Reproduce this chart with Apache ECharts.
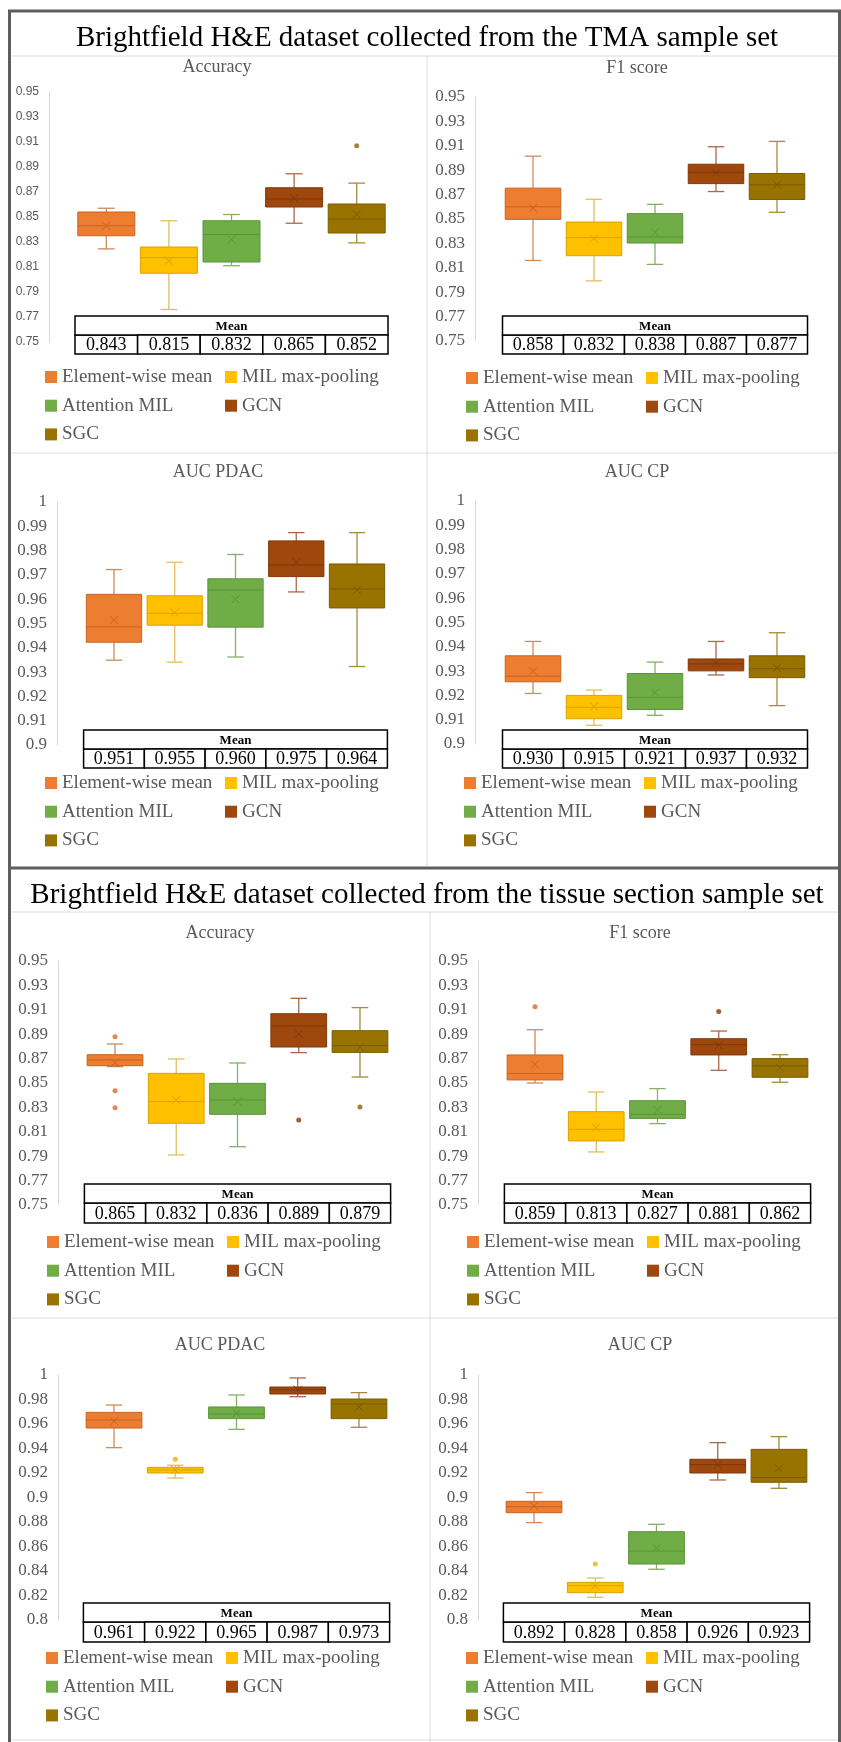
<!DOCTYPE html>
<html><head><meta charset="utf-8">
<script src="https://cdn.jsdelivr.net/npm/echarts@6/dist/echarts.min.js"></script>
<style>html,body{margin:0;padding:0;background:#fff}#c{width:841px;height:1742px}</style>
</head><body><div id="c"></div>
<script>
// ---------- DATA ----------
const methods = ['Element-wise mean','MIL max-pooling','Attention MIL','GCN','SGC'];
const sectionTitles = ['Brightfield H&E dataset collected from the TMA sample set',
                       'Brightfield H&E dataset collected from the tissue section sample set'];
const panelTitles = ['Accuracy','F1 score','AUC PDAC','AUC CP','Accuracy','F1 score','AUC PDAC','AUC CP'];

// y-axis ranges: [min, max, label step]
const accRange = [0.75, 0.95, 0.02];
const tmaAucRange = [0.9, 1.0, 0.01];
const tisAucRange = [0.8, 1.0, 0.02];

// box statistics per method: [min, Q1, median, Q3, max]
const tmaAccBox = [[0.8245,0.835,0.843,0.854,0.857],[0.776,0.805,0.8175,0.826,0.847],[0.811,0.814,0.836,0.847,0.852],[0.845,0.858,0.8644,0.8734,0.8846],[0.8293,0.8372,0.8484,0.8604,0.8771]];
const tmaAccMark = [0.843,0.815,0.832,0.865,0.852];
const tmaAccOut = [[4,0.907]];
const tmaAccMean = ['0.843','0.815','0.832','0.865','0.852'];

const tmaF1Box = [[0.816,0.8497,0.860,0.8753,0.9015],[0.7993,0.8199,0.8347,0.8475,0.8662],[0.8128,0.8303,0.8352,0.8544,0.862],[0.8725,0.879,0.8884,0.8949,0.9092],[0.8555,0.866,0.878,0.8873,0.9136]];
const tmaF1Mark = [0.859,0.834,0.839,0.888,0.878];
const tmaF1Out = [];
const tmaF1Mean = ['0.858','0.832','0.838','0.887','0.877'];

const tmaPdacBox = [[0.9349,0.9423,0.9486,0.962,0.9722],[0.9341,0.9493,0.9542,0.9614,0.9752],[0.9362,0.9485,0.9638,0.9684,0.9784],[0.963,0.9693,0.9741,0.984,0.9874],[0.9323,0.9564,0.9642,0.9745,0.9874]];
const tmaPdacMark = [0.9514,0.9545,0.9599,0.9753,0.9637];
const tmaPdacOut = [];
const tmaPdacMean = ['0.951','0.955','0.960','0.975','0.964'];

const tmaCpBox = [[0.9208,0.9256,0.9279,0.9363,0.9422],[0.9077,0.9104,0.9151,0.920,0.9222],[0.9118,0.9142,0.9192,0.929,0.9337],[0.9284,0.9301,0.933,0.935,0.9422],[0.9158,0.9273,0.931,0.9363,0.9458]];
const tmaCpMark = [0.930,0.9154,0.9212,0.9334,0.9313];
const tmaCpOut = [];
const tmaCpMean = ['0.930','0.915','0.921','0.937','0.932'];

const tisAccBox = [[0.8634,0.8642,0.8689,0.8732,0.882],[0.791,0.817,0.8347,0.8579,0.8697],[0.7978,0.8243,0.8361,0.8497,0.8664],[0.8749,0.8795,0.8967,0.9068,0.9194],[0.8549,0.8751,0.8806,0.8929,0.9118]];
const tisAccMark = [0.8667,0.8361,0.8347,0.8903,0.8794];
const tisAccOut = [[0,0.888],[0,0.8437],[0,0.8298],[3,0.8197],[4,0.8303]];
const tisAccMean = ['0.865','0.832','0.836','0.889','0.879'];

const tisF1Box = [[0.850,0.8525,0.8577,0.873,0.8937],[0.7935,0.8025,0.812,0.8265,0.8426],[0.8167,0.821,0.8243,0.8355,0.8454],[0.8604,0.873,0.8814,0.8863,0.8926],[0.8506,0.8547,0.864,0.870,0.8732]];
const tisF1Mark = [0.8653,0.8134,0.8279,0.881,0.8626];
const tisF1Out = [[0,0.9126],[3,0.9087]];
const tisF1Mean = ['0.859','0.813','0.827','0.881','0.862'];

const tisPdacBox = [[0.9407,0.9567,0.9633,0.9695,0.9755],[0.9159,0.920,0.9225,0.9246,0.9263],[0.9556,0.9644,0.9682,0.9739,0.9837],[0.9823,0.9845,0.9878,0.9902,0.9976],[0.9573,0.9644,0.9763,0.9804,0.9856]];
const tisPdacMark = [0.9622,0.9225,0.9687,0.988,0.974];
const tisPdacOut = [[1,0.9312]];
const tisPdacMean = ['0.961','0.922','0.965','0.987','0.973'];

const tisCpBox = [[0.8795,0.8876,0.8925,0.8969,0.904],[0.8185,0.8223,0.828,0.8307,0.8343],[0.8414,0.8457,0.8563,0.8721,0.8781],[0.9143,0.920,0.9268,0.9312,0.9448],[0.9075,0.9124,0.9162,0.9393,0.9497]];
const tisCpMark = [0.893,0.828,0.8588,0.9268,0.9238];
const tisCpOut = [[1,0.8457]];
const tisCpMean = ['0.892','0.828','0.858','0.926','0.923'];

// ---------- STYLE / LAYOUT ----------
const fillC    = ['#ED7D31','#FFC000','#70AD47','#9E480E','#997300'];
const borderC  = ['#C8631E','#D9A300','#5A9439','#7E380A','#7A5C00'];
const whiskerC = ['#D08A5C','#E2BE5E','#86B06A','#A76A48','#A88A3E'];
const dotC     = ['#D8692A','#EDB100','#62A03C','#85390A','#846400'];
const SERIF = '"Liberation Serif", "Times New Roman", serif';
const GRAY = '#595959';

const panels = [
  {box:tmaAccBox, mark:tmaAccMark, out:tmaAccOut, mean:tmaAccMean, range:accRange},
  {box:tmaF1Box, mark:tmaF1Mark, out:tmaF1Out, mean:tmaF1Mean, range:accRange},
  {box:tmaPdacBox, mark:tmaPdacMark, out:tmaPdacOut, mean:tmaPdacMean, range:tmaAucRange},
  {box:tmaCpBox, mark:tmaCpMark, out:tmaCpOut, mean:tmaCpMean, range:tmaAucRange},
  {box:tisAccBox, mark:tisAccMark, out:tisAccOut, mean:tisAccMean, range:accRange},
  {box:tisF1Box, mark:tisF1Mark, out:tisF1Out, mean:tisF1Mean, range:accRange},
  {box:tisPdacBox, mark:tisPdacMark, out:tisPdacOut, mean:tisPdacMean, range:tisAucRange},
  {box:tisCpBox, mark:tisCpMark, out:tisCpOut, mean:tisCpMean, range:tisAucRange}
];
const layouts = [
  {axisX:49, gx0:75, gx1:388, top:92, bot:342, t0:316, t1:335, t2:354, tx:217, ty:67, lx:45, ly:377, sans:true},
  {axisX:475, gx0:502.5, gx1:807.5, top:97, bot:341, t0:316, t1:335, t2:354, tx:637, ty:68, lx:466, ly:378},
  {axisX:57, gx0:83.6, gx1:387.4, top:502, bot:745, t0:730, t1:749, t2:768, tx:218, ty:472, lx:45, ly:783},
  {axisX:475, gx0:502.5, gx1:807.5, top:501, bot:744, t0:730, t1:749, t2:768, tx:637, ty:472, lx:464, ly:783},
  {axisX:58, gx0:84.4, gx1:390.6, top:961, bot:1205, t0:1184, t1:1203, t2:1223, tx:220, ty:933, lx:47, ly:1242},
  {axisX:478, gx0:504.4, gx1:810.6, top:961, bot:1205, t0:1184, t1:1203, t2:1223, tx:640, ty:933, lx:467, ly:1242},
  {axisX:58, gx0:83.4, gx1:389.6, top:1375, bot:1620, t0:1603, t1:1622, t2:1642, tx:220, ty:1345, lx:46, ly:1658},
  {axisX:478, gx0:503.4, gx1:809.6, top:1375, bot:1620, t0:1603, t1:1622, t2:1642, tx:640, ty:1345, lx:466, ly:1658}
];

function fmtNum(v){ return String(Math.round(v*100)/100); }

function boxRender(k){
  return function(params, api){
    const c = api.value(0);
    const ys = [1,2,3,4,5,6].map(d => api.coord([c, api.value(d)])[1]);
    const x = api.coord([c, api.value(1)])[0];
    const band = api.size([1,0])[0];
    const bw = band*0.91, cw = band*0.27, xs = 4;
    const [yMin,yQ1,yMed,yQ3,yMax,yMean] = ys;
    const w = {stroke:whiskerC[k], lineWidth:1.3, fill:null};
    const b = {stroke:borderC[k], lineWidth:1, fill:null};
    return {type:'group', children:[
      {type:'line', shape:{x1:x,y1:yMax,x2:x,y2:yQ3}, style:w},
      {type:'line', shape:{x1:x,y1:yQ1,x2:x,y2:yMin}, style:w},
      {type:'line', shape:{x1:x-cw/2,y1:yMax,x2:x+cw/2,y2:yMax}, style:w},
      {type:'line', shape:{x1:x-cw/2,y1:yMin,x2:x+cw/2,y2:yMin}, style:w},
      {type:'rect', shape:{x:x-bw/2,y:yQ3,width:bw,height:yQ1-yQ3}, style:{fill:fillC[k], stroke:borderC[k], lineWidth:1}},
      {type:'line', shape:{x1:x-bw/2,y1:yMed,x2:x+bw/2,y2:yMed}, style:b},
      {type:'line', shape:{x1:x-xs,y1:yMean-xs,x2:x+xs,y2:yMean+xs}, style:b},
      {type:'line', shape:{x1:x-xs,y1:yMean+xs,x2:x+xs,y2:yMean-xs}, style:b}
    ]};
  };
}

function tableRender(pi){
  const L = layouts[pi], vals = panels[pi].mean;
  return function(params, api){
    const c = api.value(0);
    const band = api.size([1,0])[0];
    const x = api.coord([c, panels[pi].range[0]])[0];
    const h1 = L.t1 - L.t0, h2 = L.t2 - L.t1;
    const children = [
      {type:'rect', shape:{x:x-band/2, y:L.t1, width:band, height:h2}, style:{fill:'#fff', stroke:'#000', lineWidth:1.5}},
      {type:'text', style:{x:x, y:L.t1+h2/2+1, text:vals[params.dataIndex], fill:'#000', font:'18px '+SERIF, align:'center', verticalAlign:'middle', textAlign:'center', textVerticalAlign:'middle'}}
    ];
    if (params.dataIndex === 0){
      children.push({type:'rect', shape:{x:x-band/2, y:L.t0, width:band*5, height:h1}, style:{fill:'#fff', stroke:'#000', lineWidth:1.5}});
      children.push({type:'text', style:{x:x-band/2+band*2.5, y:L.t0+h1/2+1, text:'Mean', fill:'#000', font:'bold 13px '+SERIF, align:'center', verticalAlign:'middle', textAlign:'center', textVerticalAlign:'middle'}});
    }
    return {type:'group', children};
  };
}

const grid = [], xAxis = [], yAxis = [], series = [], legend = [], graphic = [];

panels.forEach((P, i) => {
  const L = layouts[i];
  const [mn, mx, step] = P.range;
  const ratio = mn/step;
  const useHalf = Math.abs(ratio - Math.round(ratio)) > 1e-6;
  grid.push({left:L.gx0, top:L.top, width:L.gx1-L.gx0, height:L.bot-L.top, containLabel:false});
  xAxis.push({gridIndex:i, type:'category', data:methods, boundaryGap:true, show:false});
  yAxis.push({gridIndex:i, type:'value', min:mn, max:mx, interval: useHalf ? step/2 : step,
    offset: L.gx0 - L.axisX,
    axisLine:{show:true, lineStyle:{color:'#D9D9D9', width:1}},
    axisTick:{show:false}, splitLine:{show:false},
    axisLabel:{margin:10, color:GRAY,
      fontFamily: L.sans ? '"Liberation Sans", Arial, sans-serif' : SERIF,
      fontSize: L.sans ? 12 : 17,
      formatter: v => { const k=(v-mn)/step; return Math.abs(k-Math.round(k))<1e-6 ? fmtNum(v) : ''; }}
  });
  methods.forEach((m, k) => {
    series.push({type:'custom', name:m, xAxisIndex:i, yAxisIndex:i, clip:false, z:2,
      itemStyle:{color:fillC[k]},
      encode:{x:0, y:[1,2,3,4,5,6]},
      data:[[k].concat(P.box[k], [P.mark[k]])],
      renderItem: boxRender(k)});
  });
  P.out.forEach(o => {
    series.push({type:'scatter', xAxisIndex:i, yAxisIndex:i, z:3, symbol:'circle', symbolSize:5,
      itemStyle:{color:dotC[o[0]]}, data:[[o[0], o[1]]], silent:true});
  });
  series.push({type:'custom', xAxisIndex:i, yAxisIndex:i, clip:false, z:10, silent:true,
    encode:{x:0, y:1},
    data: P.mean.map((t, k) => [k, mn]),
    renderItem: tableRender(i)});
  const legBase = {orient:'vertical', top:L.ly-9.5, itemGap:9.7, itemWidth:12, itemHeight:12, icon:'rect',
    padding:0, selectedMode:false, itemStyle:{borderWidth:0},
    textStyle:{fontFamily:SERIF, fontSize:19, color:GRAY, lineHeight:19}};
  legend.push(Object.assign({}, legBase, {left:L.lx, data:[methods[0], methods[2], methods[4]]}));
  legend.push(Object.assign({}, legBase, {left:L.lx+180, data:[methods[1], methods[3]]}));
  graphic.push({type:'text', x:L.tx, y:L.ty, z:5,
    style:{text:panelTitles[i], fill:GRAY, font:'18px '+SERIF, align:'center', verticalAlign:'middle', textAlign:'center', textVerticalAlign:'middle'}});
});

// frames & separators
const light = {stroke:'#DCDCDC', lineWidth:1};
const dark = {stroke:'#5E5E5E', lineWidth:3};
[
  [427,56,427,866, light],[12,453,838,453, light],
  [430,912,430,1742, light],[12,1318,838,1318, light],[12,1740,838,1740, light],
  [12,56,838,56, light],[12,912,838,912, light]
].forEach(a => graphic.push({type:'line', z:1, shape:{x1:a[0],y1:a[1],x2:a[2],y2:a[3]}, style:a[4]}));
[
  [8,11,841,11],[9.5,11,9.5,1742],[839.5,11,839.5,1742],[8,868,841,868]
].forEach(a => graphic.push({type:'line', z:6, shape:{x1:a[0],y1:a[1],x2:a[2],y2:a[3]}, style:dark}));
graphic.push({type:'text', x:427, y:38, z:5, style:{text:sectionTitles[0], fill:'#000', font:'29px '+SERIF, align:'center', verticalAlign:'middle', textAlign:'center', textVerticalAlign:'middle'}});
graphic.push({type:'text', x:427, y:895, z:5, style:{text:sectionTitles[1], fill:'#000', font:'29px '+SERIF, align:'center', verticalAlign:'middle', textAlign:'center', textVerticalAlign:'middle'}});

const chart = echarts.init(document.getElementById('c'), null, {renderer:'canvas', width:841, height:1742});
chart.setOption({backgroundColor:'#fff', animation:false, grid, xAxis, yAxis, series, legend, graphic});
</script></body></html>
